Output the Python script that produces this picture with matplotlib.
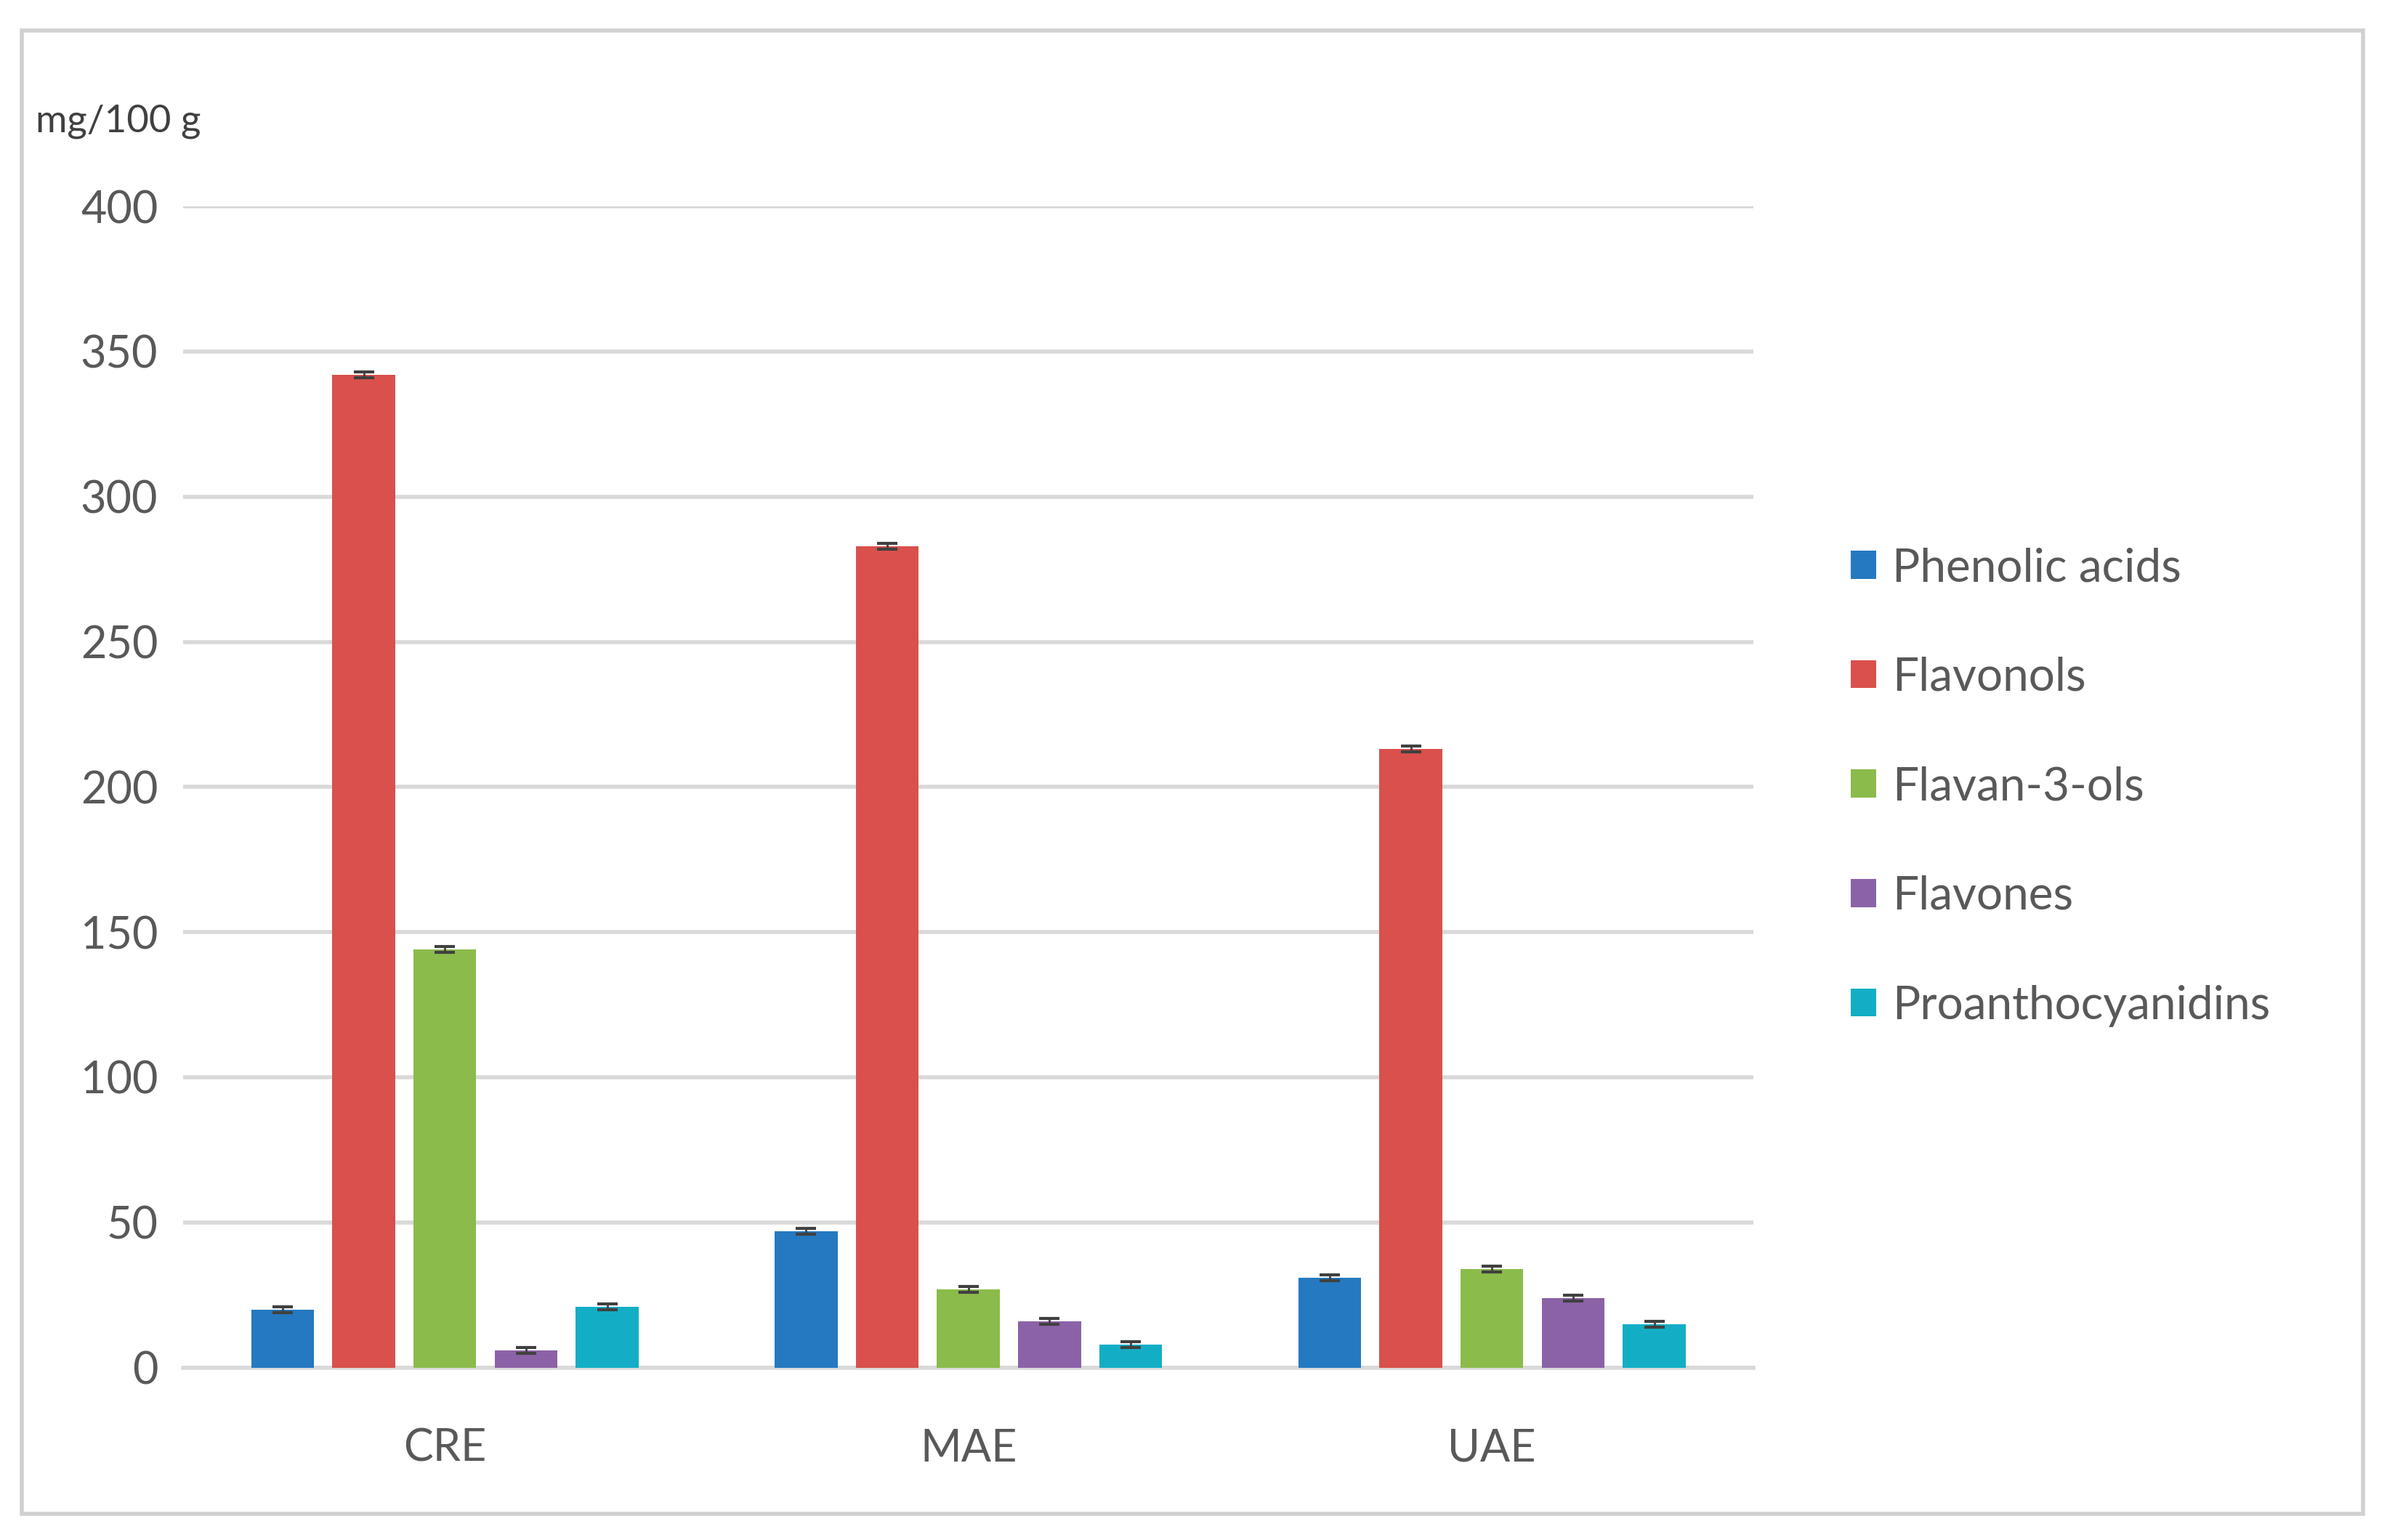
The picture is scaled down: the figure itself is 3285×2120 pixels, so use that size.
import matplotlib
matplotlib.use("Agg")
import matplotlib.pyplot as plt
import numpy as np
from matplotlib.patches import Rectangle

plt.rcParams['font.family'] = ['Lato', 'DejaVu Sans']

groups = ["CRE", "MAE", "UAE"]
series = ["Phenolic acids", "Flavonols", "Flavan-3-ols", "Flavones", "Proanthocyanidins"]
colors = ["#2579C0", "#D9504C", "#8BBB4B", "#8B62A7", "#13AEC6"]
phenolic = [20, 47, 31]
flavonols = [342, 283, 213]
flavan = [144, 27, 34]
flavones = [6, 16, 24]
proantho = [21, 8, 15]
errors = [1.0, 1.0, 1.0]
values = [phenolic, flavonols, flavan, flavones, proantho]

fig = plt.figure(figsize=(32.85, 21.2), dpi=100)
fig.patches.append(Rectangle((0.009, 0.017), 0.981, 0.963, transform=fig.transFigure,
                             fill=False, edgecolor="#D0D0D0", linewidth=4))
ax = fig.add_axes([0.0767, 0.112, 0.658, 0.754])

x = np.arange(len(groups))
w = 0.12
step = 0.155
for i, (name, vals) in enumerate(zip(series, values)):
    pos = x + (i - 2) * step
    ax.bar(pos, vals, width=w, color=colors[i], label=name, zorder=3,
           yerr=errors, error_kw=dict(ecolor="#404040", elinewidth=2, capsize=10, capthick=3))

ax.set_ylim(0, 400)
ax.set_xlim(-0.5, 2.5)
ax.set_yticks(range(0, 401, 50))
ax.yaxis.grid(True, color="#D9D9D9", linewidth=4, zorder=0)
ax.set_xticks(x)
ax.set_xticklabels(groups)
ax.tick_params(axis="both", length=0, labelsize=44, colors="#595959", pad=25)
ax.tick_params(axis="x", pad=60)
for s in ["top", "right", "left"]:
    ax.spines[s].set_visible(False)
ax.spines["bottom"].set_color("#D9D9D9")
ax.spines["bottom"].set_linewidth(4)

fig.text(0.015, 0.91, "mg/100 g", fontsize=38, color="#404040", va="bottom")

leg = ax.legend(loc="center left", bbox_to_anchor=(1.035, 0.5), frameon=False,
                fontsize=46, labelspacing=1.45, handlelength=0.55, handleheight=0.55,
                handletextpad=0.35)
for t in leg.get_texts():
    t.set_color("#595959")

fig.savefig("out.png", dpi=100)
